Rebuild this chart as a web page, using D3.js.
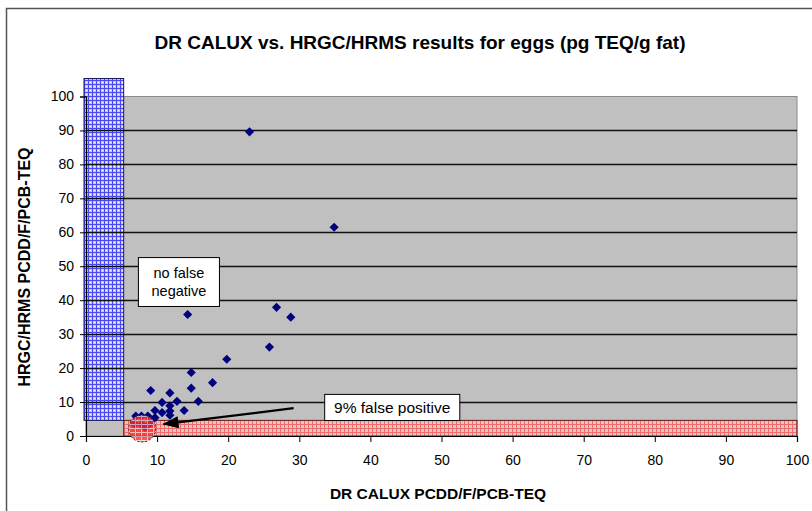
<!DOCTYPE html>
<html>
<head>
<meta charset="utf-8">
<script src="https://cdn.jsdelivr.net/npm/d3@7"></script>
<style>
  body { margin: 0; background: #fff; }
  svg { display: block; font-family: "Liberation Sans", Arial, sans-serif; }
</style>
</head>
<body>
<svg id="chart" width="812" height="511"></svg>
<script>
// DR CALUX vs HRGC/HRMS scatter (eggs)

var chartTitle = "DR CALUX vs. HRGC/HRMS results for eggs (pg TEQ/g fat)";
var xTitle = "DR CALUX PCDD/F/PCB-TEQ";
var yTitle = "HRGC/HRMS PCDD/F/PCB-TEQ";

// one point per sample: CALUX result (x) and HRGC/HRMS result (y)
var calux = [23.0, 34.9, 14.3, 26.8, 28.8, 25.8, 19.8, 14.8, 17.8, 14.8,
             9.1, 11.8, 15.8, 12.8, 10.7, 13.8, 9.7, 11.8, 11.8, 11.8,
             10.7, 8.7, 7.0, 7.8, 9.7, 6.8, 7.8, 9.0, 8.3];
var hrms  = [89.6, 61.5, 35.8, 37.9, 35.0, 26.2, 22.6, 18.7, 15.7, 14.1,
             13.4, 12.7, 10.2, 10.2, 9.9, 7.5, 7.5, 8.9, 7.4, 6.1,
             6.9, 5.9, 5.9, 5.9, 5.4, 3.5, 3.4, 3.6, 2.6];

var xTicks = [0, 10, 20, 30, 40, 50, 60, 70, 80, 90, 100];
var yTicks = [0, 10, 20, 30, 40, 50, 60, 70, 80, 90, 100];
var gridValues = [10, 20, 30, 40, 50, 60, 70, 80, 90];

// cut-off values bounding the shaded zones
var caluxCutoff = 5.3;
var hrmsLimit = 4.6;
var zoneTop = 105.3;

var notes = ["no false", "negative"];
var fpNote = "9% false positive";

var svg = d3.select("#chart");

var x = d3.scaleLinear().domain([0, 100]).range([86, 797]);
var y = d3.scaleLinear().domain([0, 100]).range([436, 96.5]);

///////////////////////////////////////////////////////////////////////////////
// patterns

var defs = svg.append("defs");

var blue = defs.append("pattern").attr("id", "bluePat")
  .attr("patternUnits", "userSpaceOnUse").attr("width", 4).attr("height", 4);
blue.append("rect").attr("width", 4).attr("height", 4).attr("fill", "#c4c4ff");
blue.append("rect").attr("width", 4).attr("height", 1).attr("fill", "#4a4af5");
blue.append("rect").attr("width", 1).attr("height", 4).attr("fill", "#4a4af5");
blue.append("rect").attr("x", 2).attr("y", 2).attr("width", 1).attr("height", 1).attr("fill", "#ffffff");

var red = defs.append("pattern").attr("id", "redPat")
  .attr("patternUnits", "userSpaceOnUse").attr("width", 4).attr("height", 4);
red.append("rect").attr("width", 4).attr("height", 4).attr("fill", "#f2c0c0");
red.append("rect").attr("width", 4).attr("height", 1).attr("fill", "#f26a6a");
red.append("rect").attr("width", 1).attr("height", 4).attr("fill", "#f26a6a");
red.append("rect").attr("x", 2).attr("y", 2).attr("width", 1).attr("height", 1).attr("fill", "#c8c8c8");

var brick = defs.append("pattern").attr("id", "brickPat")
  .attr("patternUnits", "userSpaceOnUse").attr("width", 6).attr("height", 4);
brick.append("rect").attr("width", 6).attr("height", 4).attr("fill", "#ff2a2a");
brick.append("rect").attr("width", 6).attr("height", 1).attr("fill", "#ffd0d0");
brick.append("rect").attr("x", 3).attr("width", 1).attr("height", 4).attr("fill", "#ffb0b0");

defs.append("marker").attr("id", "head")
  .attr("markerUnits", "userSpaceOnUse")
  .attr("viewBox", "0 0 16 12").attr("refX", 15).attr("refY", 6)
  .attr("markerWidth", 16).attr("markerHeight", 12)
  .attr("orient", "auto")
  .append("path").attr("d", "M0,0 L16,6 L0,12 Z").attr("fill", "#000");

///////////////////////////////////////////////////////////////////////////////
// frame and plot area

svg.append("path")
  .attr("d", "M6.5,511 L6.5,8.5 L812,8.5")
  .attr("fill", "none").attr("stroke", "#555").attr("stroke-width", 1.5);

svg.append("rect")
  .attr("x", x(0)).attr("y", y(100))
  .attr("width", x(100) - x(0)).attr("height", y(0) - y(100))
  .attr("fill", "#c0c0c0").attr("stroke", "#8a8a8a");

// false negative zone (left) and false positive zone (bottom)
svg.append("rect")
  .attr("x", x(0) - 2).attr("y", y(zoneTop))
  .attr("width", x(caluxCutoff) - x(0) + 2).attr("height", y(hrmsLimit) - y(zoneTop))
  .attr("fill", "url(#bluePat)").attr("stroke", "#1a1a60").attr("stroke-width", 1);

svg.append("rect")
  .attr("x", x(caluxCutoff)).attr("y", y(hrmsLimit))
  .attr("width", x(100) - x(caluxCutoff)).attr("height", y(0) - y(hrmsLimit))
  .attr("fill", "url(#redPat)").attr("stroke", "#602020").attr("stroke-width", 1);

svg.append("g").selectAll("line")
  .data(gridValues)
  .enter().append("line")
  .attr("x1", x(0)).attr("x2", x(100))
  .attr("y1", function (d) { return Math.round(y(d)) + 0.5; })
  .attr("y2", function (d) { return Math.round(y(d)) + 0.5; })
  .attr("stroke", "#111").attr("stroke-width", 1.6);

///////////////////////////////////////////////////////////////////////////////
// axes

var xAxis = svg.append("g")
  .attr("transform", "translate(0," + y(0) + ")")
  .call(d3.axisBottom(x).tickValues(xTicks).tickSize(6).tickPadding(13).tickFormat(d3.format("d")));
var yAxis = svg.append("g")
  .attr("transform", "translate(" + x(0) + ",0)")
  .call(d3.axisLeft(y).tickValues(yTicks).tickSize(6).tickPadding(6).tickFormat(d3.format("d")));

[xAxis, yAxis].forEach(function (g) {
  g.select(".domain").attr("stroke", "#000").attr("stroke-width", 1.2);
  g.selectAll(".tick line").attr("stroke", "#000");
  g.selectAll(".tick text")
    .attr("fill", "#000")
    .style("font-family", "'Liberation Sans', Arial, sans-serif")
    .style("font-size", "14px");
});

///////////////////////////////////////////////////////////////////////////////
// points

var points = d3.range(calux.length).map(function (i) {
  return { x: calux[i], y: hrms[i] };
});

svg.append("g").selectAll("path")
  .data(points)
  .enter().append("path")
  .attr("d", d3.symbol().type(d3.symbolSquare).size(42))
  .attr("transform", function (d) {
    return "translate(" + x(d.x) + "," + y(d.y) + ") rotate(45)";
  })
  .attr("fill", "#000080");

// circled false positives
svg.append("circle")
  .attr("cx", x(7.9)).attr("cy", y(2.2)).attr("r", 13.5)
  .attr("fill", "url(#brickPat)").attr("fill-opacity", 0.8)
  .attr("stroke", "#222").attr("stroke-width", 1)
  .attr("stroke-dasharray", "2,2");

///////////////////////////////////////////////////////////////////////////////
// annotations

svg.append("line")
  .attr("x1", x(29.2)).attr("y1", y(8.2))
  .attr("x2", x(10.9)).attr("y2", y(3.5))
  .attr("stroke", "#000").attr("stroke-width", 2.2)
  .attr("marker-end", "url(#head)");

var box1 = svg.append("g");
box1.append("rect")
  .attr("x", x(7.3) + 0.5).attr("y", y(52.7) + 0.5)
  .attr("width", x(18.7) - x(7.3)).attr("height", y(38.3) - y(52.7))
  .attr("fill", "#fff").attr("stroke", "#000");
box1.selectAll("text")
  .data(notes)
  .enter().append("text")
  .attr("x", (x(7.3) + x(18.7)) / 2 + 0.5)
  .attr("y", function (d, i) { return y(52.7) + 21 + i * 18; })
  .attr("text-anchor", "middle")
  .style("font-size", "14.5px")
  .text(function (d) { return d; });

var box2 = svg.append("g");
box2.append("rect")
  .attr("x", x(33.5) + 0.5).attr("y", y(12.4) + 0.5)
  .attr("width", x(52.5) - x(33.5)).attr("height", y(4.7) - y(12.4))
  .attr("fill", "#fff").attr("stroke", "#000");
box2.append("text")
  .attr("x", (x(33.5) + x(52.5)) / 2 + 0.5)
  .attr("y", y(12.4) + 19.5)
  .attr("text-anchor", "middle")
  .style("font-size", "15.5px")
  .text(fpNote);

///////////////////////////////////////////////////////////////////////////////
// titles

svg.append("text")
  .attr("x", 420).attr("y", 49)
  .attr("text-anchor", "middle")
  .style("font-size", "19px").style("font-weight", "bold")
  .text(chartTitle);

svg.append("text")
  .attr("x", 438).attr("y", 499)
  .attr("text-anchor", "middle")
  .style("font-size", "15.5px").style("font-weight", "bold")
  .text(xTitle);

svg.append("text")
  .attr("transform", "translate(30,267) rotate(-90)")
  .attr("text-anchor", "middle")
  .style("font-size", "16px").style("font-weight", "bold")
  .text(yTitle);
</script>
</body>
</html>
